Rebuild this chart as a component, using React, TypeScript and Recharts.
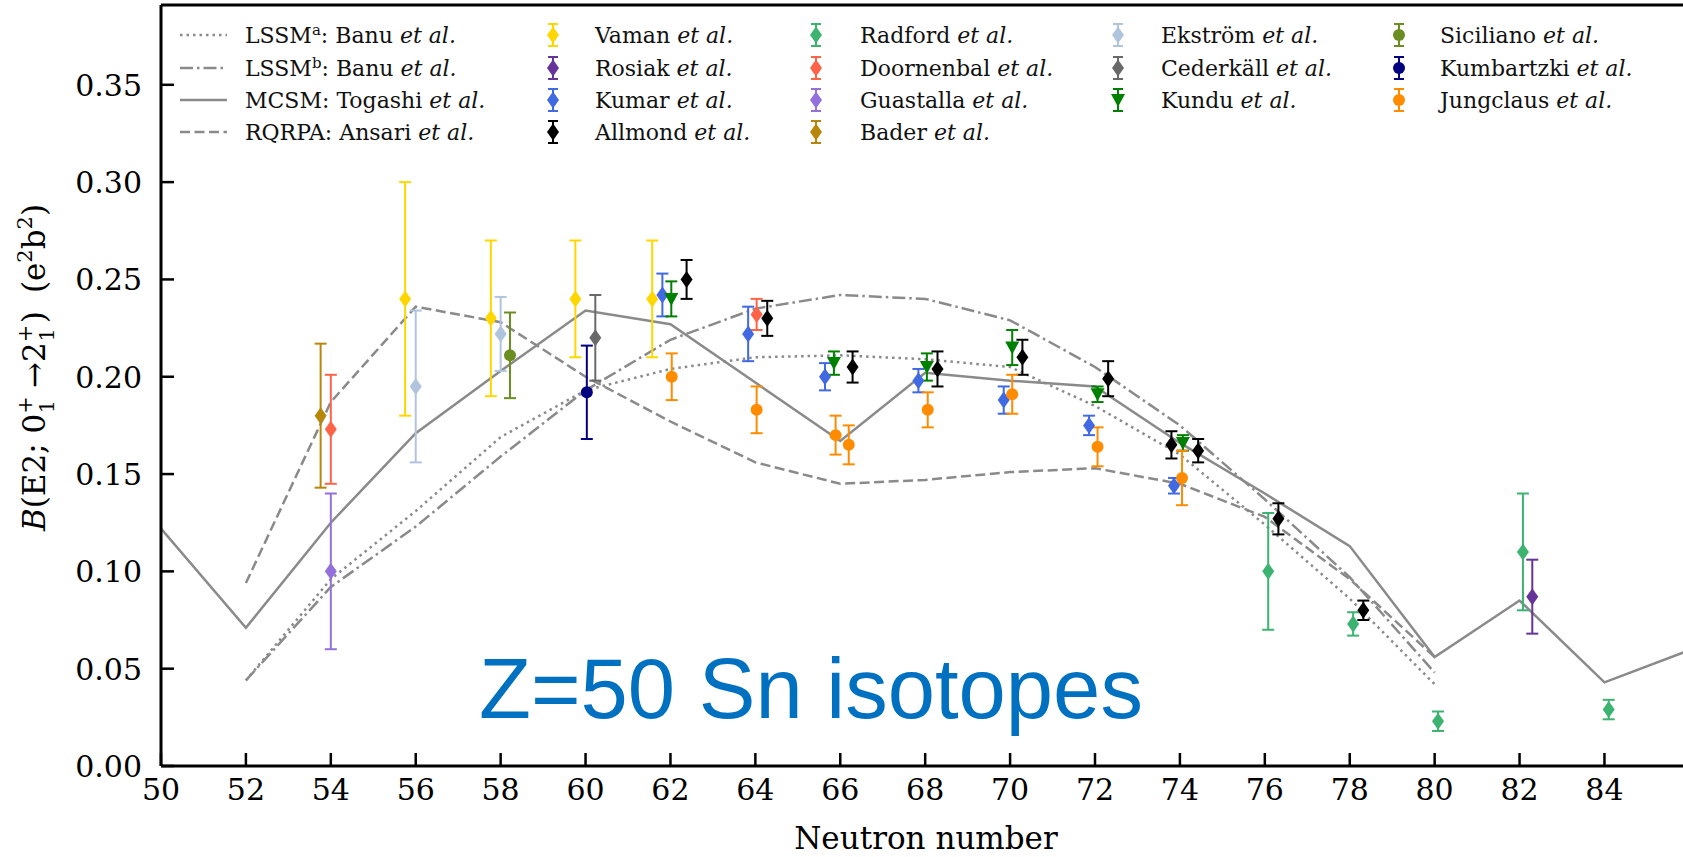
import React from "react";
import { ComposedChart, ErrorBar, Line, ReferenceLine, Scatter, XAxis, YAxis } from "recharts";

const SERIF = '"DejaVu Serif", serif';
const LINE_GRAY = "#8a8a8a";

// axes
const xTicks = [50, 52, 54, 56, 58, 60, 62, 64, 66, 68, 70, 72, 74, 76, 78, 80, 82, 84];
const yTicks = [0, 0.05, 0.1, 0.15, 0.2, 0.25, 0.3, 0.35];

// theory curves
const mcsmN = [50, 52, 54, 56, 58, 60, 62, 64, 66, 68, 70, 72, 74, 76, 78, 80, 82, 84, 86];
const mcsmB = [0.122, 0.071, 0.125, 0.171, 0.203, 0.234, 0.227, 0.197, 0.167, 0.202, 0.198, 0.195, 0.166, 0.14, 0.113, 0.056, 0.085, 0.043, 0.0595];
const lssmN = [52, 54, 56, 58, 60, 62, 64, 66, 68, 70, 72, 74, 76, 78, 80];
const lssmAB = [0.044, 0.096, 0.131, 0.169, 0.193, 0.204, 0.21, 0.211, 0.209, 0.205, 0.185, 0.16, 0.124, 0.086, 0.042];
const lssmBB = [0.044, 0.092, 0.123, 0.159, 0.193, 0.219, 0.235, 0.242, 0.24, 0.229, 0.205, 0.175, 0.137, 0.097, 0.048];
const rqrpaB = [0.094, 0.187, 0.236, 0.228, 0.2, 0.177, 0.156, 0.145, 0.147, 0.151, 0.153, 0.145, 0.128, 0.096, 0.056];

// experiments
const vamanN = [55.75, 57.77, 59.76, 61.57];
const vamanB = [0.24, 0.23, 0.24, 0.24];
const vamanErr = [0.06, 0.04, 0.03, 0.03];
const rosiakN = [82.3];
const rosiakB = [0.087];
const rosiakErr = [0.019];
const kumarN = [61.81, 63.83, 65.64, 67.84, 69.85, 71.86, 73.86];
const kumarB = [0.242, 0.222, 0.2, 0.198, 0.188, 0.175, 0.144];
const kumarErr = [0.011, 0.014, 0.007, 0.006, 0.007, 0.005, 0.004];
const allmondN = [62.38, 64.28, 66.29, 68.29, 70.29, 72.31, 73.8, 74.43, 76.32, 78.32];
const allmondB = [0.25, 0.23, 0.205, 0.204, 0.21, 0.199, 0.165, 0.162, 0.127, 0.08];
const allmondErr = [0.01, 0.009, 0.008, 0.009, 0.009, 0.009, 0.007, 0.006, 0.008, 0.005];
const radfordN = [76.08, 78.08, 80.08, 82.08, 84.1];
const radfordB = [0.1, 0.073, 0.023, 0.11, 0.029];
const radfordErr = [0.03, 0.006, 0.005, 0.03, 0.005];
const doornenbalN = [54.0, 64.03];
const doornenbalB = [0.173, 0.232];
const doornenbalErr = [0.028, 0.008];
const guastallaN = [54.0];
const guastallaB = [0.1];
const guastallaErr = [0.04];
const baderN = [53.76];
const baderB = [0.18];
const baderErr = [0.037];
const ekstromN = [56.0, 58.0];
const ekstromB = [0.195, 0.222];
const ekstromErr = [0.039, 0.019];
const cederkallN = [60.23];
const cederkallB = [0.22];
const cederkallErr = [0.022];
const kunduN = [62.02, 65.85, 68.04, 70.05, 72.06, 74.07];
const kunduB = [0.24, 0.207, 0.205, 0.215, 0.191, 0.166];
const kunduErr = [0.009, 0.006, 0.007, 0.009, 0.004, 0.004];
const sicilianoN = [58.22];
const sicilianoB = [0.211];
const sicilianoErr = [0.022];
const kumbartzkiN = [60.03];
const kumbartzkiB = [0.192];
const kumbartzkiErr = [0.024];
const jungclausN = [62.03, 64.03, 65.89, 66.2, 68.06, 70.05, 72.06, 74.05];
const jungclausB = [0.2, 0.183, 0.17, 0.165, 0.183, 0.191, 0.164, 0.148];
const jungclausErr = [0.012, 0.012, 0.01, 0.01, 0.009, 0.01, 0.01, 0.014];

type Kind = "diamond" | "circle" | "triangle";

const toPoints = (xs: number[], ys: number[], errs?: number[]) =>
  xs.map((x, i) => ({ x, y: ys[i], err: errs ? errs[i] : 0 }));

const theory = [
  { key: "lssma", label: "a", data: toPoints(lssmN, lssmAB), dash: "2.5 4", text: "Banu" },
  { key: "lssmb", label: "b", data: toPoints(lssmN, lssmBB), dash: "13 4 2.5 4", text: "Banu" },
  { key: "mcsm", label: "MCSM", data: toPoints(mcsmN, mcsmB), dash: undefined, text: "Togashi" },
  { key: "rqrpa", label: "RQRPA", data: toPoints(lssmN, rqrpaB), dash: "10 4.5", text: "Ansari" },
];

const experiments: { name: string; color: string; kind: Kind; data: any[] }[] = [
  { name: "Vaman", color: "#FFD700", kind: "diamond", data: toPoints(vamanN, vamanB, vamanErr) },
  { name: "Rosiak", color: "#663399", kind: "diamond", data: toPoints(rosiakN, rosiakB, rosiakErr) },
  { name: "Kumar", color: "#4169E1", kind: "diamond", data: toPoints(kumarN, kumarB, kumarErr) },
  { name: "Allmond", color: "#000000", kind: "diamond", data: toPoints(allmondN, allmondB, allmondErr) },
  { name: "Radford", color: "#3CB371", kind: "diamond", data: toPoints(radfordN, radfordB, radfordErr) },
  { name: "Doornenbal", color: "#FF6347", kind: "diamond", data: toPoints(doornenbalN, doornenbalB, doornenbalErr) },
  { name: "Guastalla", color: "#9370DB", kind: "diamond", data: toPoints(guastallaN, guastallaB, guastallaErr) },
  { name: "Bader", color: "#B8860B", kind: "diamond", data: toPoints(baderN, baderB, baderErr) },
  { name: "Ekström", color: "#B0C4DE", kind: "diamond", data: toPoints(ekstromN, ekstromB, ekstromErr) },
  { name: "Cederkäll", color: "#696969", kind: "diamond", data: toPoints(cederkallN, cederkallB, cederkallErr) },
  { name: "Kundu", color: "#008000", kind: "triangle", data: toPoints(kunduN, kunduB, kunduErr) },
  { name: "Siciliano", color: "#6B8E23", kind: "circle", data: toPoints(sicilianoN, sicilianoB, sicilianoErr) },
  { name: "Kumbartzki", color: "#000080", kind: "circle", data: toPoints(kumbartzkiN, kumbartzkiB, kumbartzkiErr) },
  { name: "Jungclaus", color: "#FF8C00", kind: "circle", data: toPoints(jungclausN, jungclausB, jungclausErr) },
];

function Marker({ kind, cx, cy, color }: { kind: Kind; cx: number; cy: number; color: string }) {
  if (kind === "circle") return <circle cx={cx} cy={cy} r={6} fill={color} />;
  if (kind === "triangle")
    return <polygon points={`${cx - 7},${cy - 6} ${cx + 7},${cy - 6} ${cx},${cy + 7}`} fill={color} />;
  return <polygon points={`${cx},${cy - 8.5} ${cx + 6},${cy} ${cx},${cy + 8.5} ${cx - 6},${cy}`} fill={color} />;
}

const XTick = ({ x, y, payload }: any) => (
  <g>
    <line x1={x} x2={x} y1={y} y2={y - 13} stroke="#000" strokeWidth={2.5} />
    <text x={x} y={y + 34} textAnchor="middle" fontSize={30} fontFamily={SERIF} fill="#000">
      {payload.value}
    </text>
  </g>
);

const YTick = ({ x, y, payload }: any) => (
  <g>
    <line x1={x} x2={x + 13} y1={y} y2={y} stroke="#000" strokeWidth={2.5} />
    <text x={x - 19} y={y + 11} textAnchor="end" fontSize={30} fontFamily={SERIF} fill="#000">
      {Number(payload.value).toFixed(2)}
    </text>
  </g>
);

const XTitle = ({ viewBox }: any) => (
  <text x={viewBox.x + viewBox.width / 2 + 4} y={849} textAnchor="middle" fontSize={31} fontFamily={SERIF} fill="#000">
    Neutron number
  </text>
);

const YTitle = ({ viewBox }: any) => {
  const cx = 45;
  const cy = viewBox.y + viewBox.height / 2 - 18;
  return (
    <text x={cx} y={cy} transform={`rotate(-90 ${cx} ${cy})`} textAnchor="middle" fontSize={31} fontFamily={SERIF} fill="#000">
      <tspan fontStyle="italic">B</tspan>
      <tspan>(E2; 0</tspan>
      <tspan fontSize={21} dy={-13}>+</tspan>
      <tspan fontSize={21} dx={-17} dy={22}>1</tspan>
      <tspan dx={12} dy={-9}>→2</tspan>
      <tspan fontSize={21} dy={-13}>+</tspan>
      <tspan fontSize={21} dx={-17} dy={22}>1</tspan>
      <tspan dx={5} dy={-9}>)</tspan>
      <tspan dx={18}>(e</tspan>
      <tspan fontSize={21} dy={-13}>2</tspan>
      <tspan dy={13}>b</tspan>
      <tspan fontSize={21} dy={-13}>2</tspan>
      <tspan dy={13}>)</tspan>
    </text>
  );
};

const rows = [35, 68, 100, 132];
const markerCols = [
  { mx: 553, tx: 595 },
  { mx: 816, tx: 860 },
  { mx: 1118, tx: 1161 },
  { mx: 1399, tx: 1440 },
];
const colSizes = [4, 4, 3, 3];

function LegendOverlay() {
  let k = 0;
  const items: React.ReactNode[] = [];
  colSizes.forEach((n, c) => {
    for (let r = 0; r < n; r++) {
      const e = experiments[k++];
      const { mx, tx } = markerCols[c];
      const cy = rows[r];
      items.push(
        <g key={e.name}>
          <line x1={mx} x2={mx} y1={cy - 11} y2={cy + 11} stroke={e.color} strokeWidth={2} />
          <line x1={mx - 5} x2={mx + 5} y1={cy - 11} y2={cy - 11} stroke={e.color} strokeWidth={2} />
          <line x1={mx - 5} x2={mx + 5} y1={cy + 11} y2={cy + 11} stroke={e.color} strokeWidth={2} />
          <Marker kind={e.kind} cx={mx} cy={cy} color={e.color} />
          <text x={tx} y={cy + 8} fontSize={22} fontFamily={SERIF} fill="#111">
            {e.name} <tspan fontStyle="italic">et al.</tspan>
          </text>
        </g>
      );
    }
  });
  return (
    <svg width={1683} height={857} style={{ position: "absolute", left: 0, top: 0, pointerEvents: "none" }}>
      {theory.map((t, i) => (
        <g key={t.key}>
          <line x1={180} x2={227} y1={rows[i]} y2={rows[i]} stroke={LINE_GRAY} strokeWidth={2.5} strokeDasharray={t.dash} />
          <text x={245} y={rows[i] + 8} fontSize={22} fontFamily={SERIF} fill="#111">
            {i < 2 ? (
              <>
                <tspan>LSSM</tspan>
                <tspan fontSize={15} dy={-8}>{t.label}</tspan>
                <tspan dy={8}>: {t.text} </tspan>
              </>
            ) : (
              <tspan>{t.label}: {t.text} </tspan>
            )}
            <tspan fontStyle="italic">et al.</tspan>
          </text>
        </g>
      ))}
      {items}
      <text x={479} y={718} fontSize={85} fontFamily='"Liberation Sans", Arial, sans-serif' fill="#0070C0">
        Z=50 Sn isotopes
      </text>
    </svg>
  );
}

export default function App() {
  return (
    <div style={{ position: "absolute", left: 0, top: 0, width: 1683, height: 857, background: "#fff", overflow: "hidden" }}>
      <ComposedChart width={1683} height={857} margin={{ top: 5, right: 0, bottom: 0, left: 0 }}>
        <XAxis
          dataKey="x"
          type="number"
          domain={[50, 85.85]}
          allowDataOverflow
          ticks={xTicks}
          interval={0}
          height={91}
          tickSize={0}
          tickMargin={0}
          tickLine={false}
          axisLine={{ stroke: "#000", strokeWidth: 3 }}
          tick={<XTick />}
          label={<XTitle />}
        />
        <YAxis
          dataKey="y"
          type="number"
          domain={[0, 0.391]}
          allowDataOverflow
          ticks={yTicks}
          interval={0}
          width={161}
          tickSize={0}
          tickMargin={0}
          tickLine={false}
          axisLine={{ stroke: "#000", strokeWidth: 3 }}
          tick={<YTick />}
          label={<YTitle />}
        />
        <ReferenceLine y={0.391} stroke="#000" strokeWidth={3} />
        {theory.map((t) => (
          <Line
            key={t.key}
            data={t.data}
            dataKey="y"
            type="linear"
            stroke={LINE_GRAY}
            strokeWidth={2.5}
            strokeDasharray={t.dash}
            dot={false}
            activeDot={false}
            isAnimationActive={false}
          />
        ))}
        {experiments.map((e) => (
          <Scatter
            key={e.name}
            name={e.name}
            data={e.data}
            dataKey="y"
            isAnimationActive={false}
            shape={(p: any) => <Marker kind={e.kind} cx={p.cx} cy={p.cy} color={e.color} />}
          >
            <ErrorBar dataKey="err" direction="y" width={6} stroke={e.color} strokeWidth={2} />
          </Scatter>
        ))}
      </ComposedChart>
      <LegendOverlay />
    </div>
  );
}
